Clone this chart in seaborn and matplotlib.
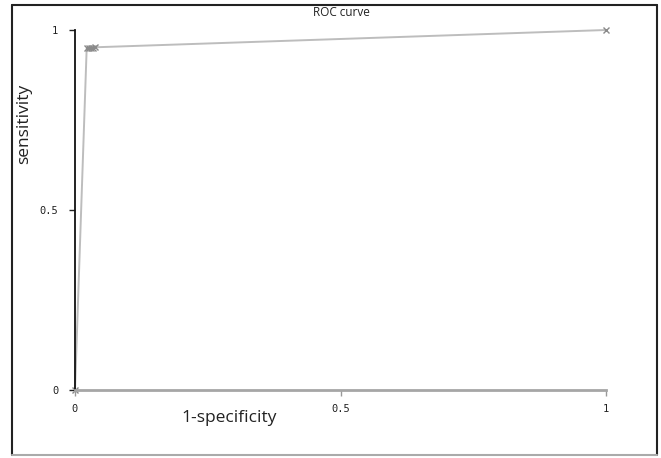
import pandas as pd
import matplotlib.pyplot as plt
import seaborn as sns
from matplotlib.lines import Line2D

# ROC points
fpr = [0.0, 0.022, 0.026, 0.030, 0.034, 0.038, 1.0]
tpr = [0.0, 0.950, 0.950, 0.951, 0.951, 0.952, 1.0]
ticks = [0, 0.5, 1]
tick_labels = ["0", "0.5", "1"]

df = pd.DataFrame({"fpr": fpr, "tpr": tpr})

sns.set_style("white")
plt.rcParams["font.family"] = ["Open Sans", "DejaVu Sans"]

fig = plt.figure(figsize=(6.61, 4.58), dpi=100)
ax = fig.add_axes([75 / 661, 1 - 390 / 458, 531 / 661, 360 / 458])

sns.lineplot(data=df, x="fpr", y="tpr", ax=ax, color="#bdbdbd", linewidth=1.4,
             marker="x", markersize=4, markeredgecolor="#8a8a8a", markeredgewidth=1,
             sort=False, clip_on=False)

ax.set_xlim(0, 1)
ax.set_ylim(0, 1)
ax.margins(0)
ax.set_xticks(ticks)
ax.set_yticks(ticks)
ax.set_xticklabels(tick_labels, family="DejaVu Sans Mono", fontsize=7.5)
ax.set_yticklabels(tick_labels, family="DejaVu Sans Mono", fontsize=7.5)
ax.tick_params(axis="both", bottom=True, left=True, length=4, width=1,
               direction="out", labelcolor="#222222")
ax.tick_params(axis="x", pad=6, color="#999999")
ax.tick_params(axis="y", pad=8, color="#222222")

for side in ["top", "right"]:
    ax.spines[side].set_visible(False)
ax.spines["left"].set_color("#111111")
ax.spines["left"].set_linewidth(1.3)
ax.spines["bottom"].set_color("#a6a6a6")
ax.spines["bottom"].set_linewidth(2)

ax.set_xlabel("1-specificity", fontsize=12.5, color="#222222")
ax.set_ylabel("sensitivity", fontsize=12.5, color="#222222")
ax.xaxis.set_label_coords(0.29, -0.055)
ax.yaxis.set_label_coords(-0.08, 0.74)
fig.text(341 / 661, 1 - 13 / 458, "ROC curve", fontsize=8.5, color="#222222",
         ha="center", va="center")

# outer frame of the screenshot
x0, x1 = 12 / 661, 657 / 661
y0, y1 = 1 - 455 / 458, 1 - 5 / 458
fig.add_artist(Line2D([x0, x0], [y0, y1], color="#222222", lw=1.5))
fig.add_artist(Line2D([x0, x1], [y1, y1], color="#222222", lw=1.5))
fig.add_artist(Line2D([x1, x1], [y0, y1], color="#222222", lw=1.5))
fig.add_artist(Line2D([x0, x1], [y0, y0], color="#aaaaaa", lw=1.5))

fig.savefig("out.png", dpi=100)
